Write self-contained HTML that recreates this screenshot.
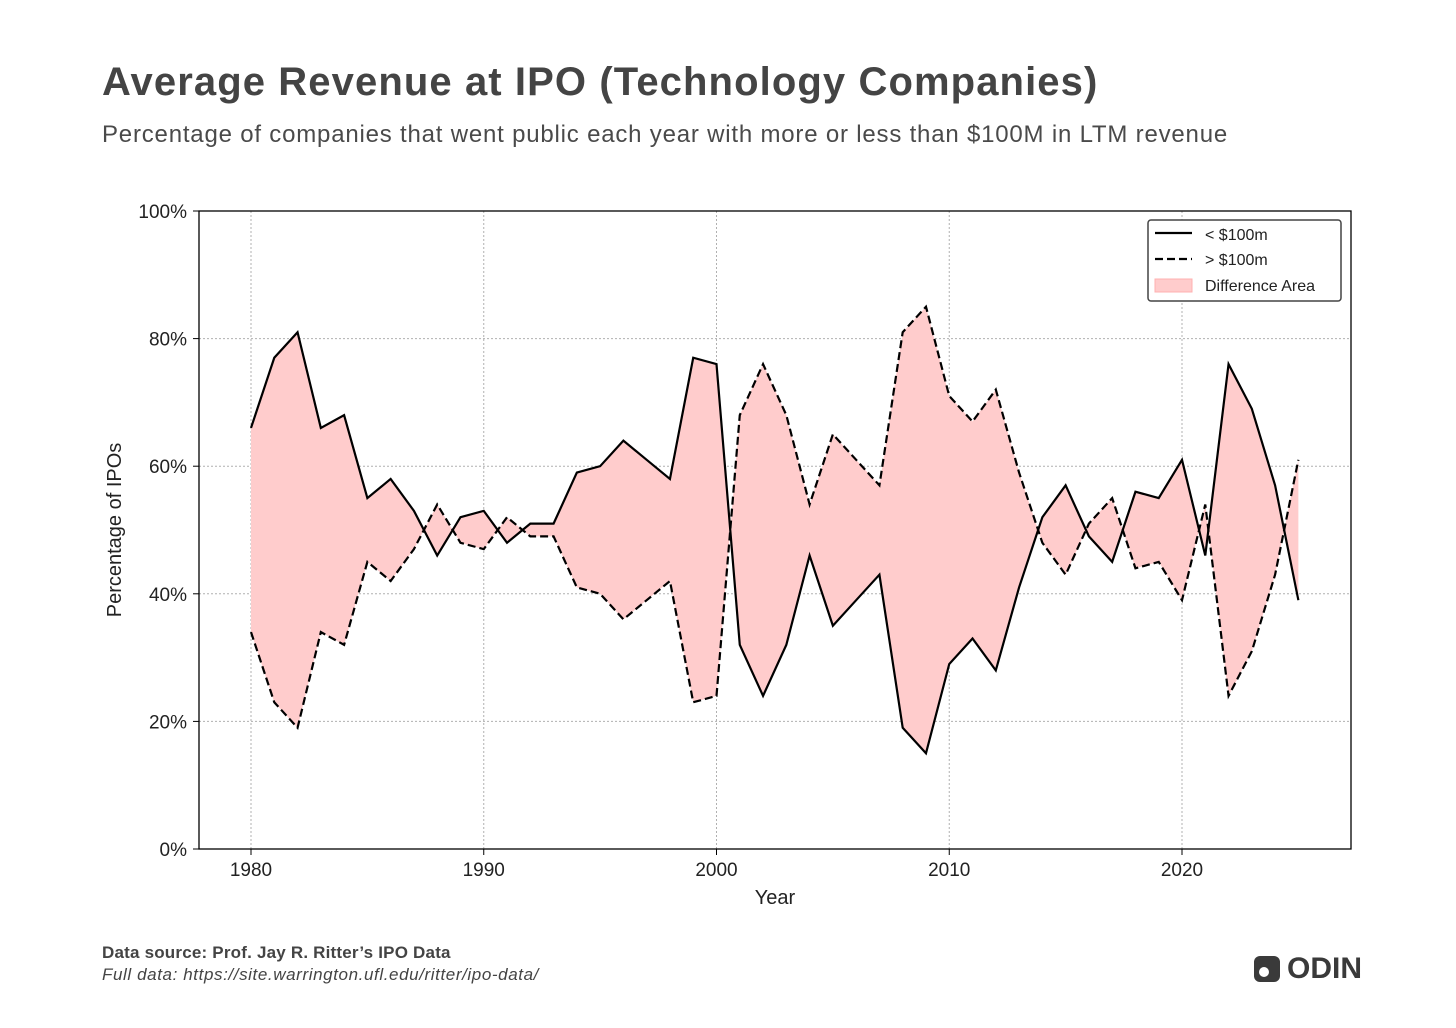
<!DOCTYPE html>
<html><head><meta charset="utf-8">
<style>
body{margin:0;background:#fff;width:1456px;height:1028px;overflow:hidden;font-family:"Liberation Sans",sans-serif;}
#wrap{position:relative;width:1456px;height:1028px;}
.t{position:absolute;white-space:nowrap;}
</style></head>
<body><div id="wrap">
<div class="t" style="left:102px;top:60px;font-size:40px;font-weight:bold;color:#444;letter-spacing:1.1px">Average Revenue at IPO (Technology Companies)</div>
<div class="t" style="left:102px;top:121px;font-size:24px;color:#4a4a4a;letter-spacing:0.8px">Percentage of companies that went public each year with more or less than $100M in LTM revenue</div>
<svg id="chart" width="1456" height="1028" style="position:absolute;left:0;top:0"></svg>
<div class="t" style="left:102px;top:943px;font-size:17px;font-weight:bold;color:#444;letter-spacing:0.2px">Data source: Prof. Jay R. Ritter’s IPO Data</div>
<div class="t" style="left:102px;top:965px;font-size:17px;font-style:italic;color:#444;letter-spacing:0.6px">Full data: https://site.warrington.ufl.edu/ritter/ipo-data/</div>
<div style="position:absolute;left:1254px;top:956px;width:26px;height:26px;background:#3a3a3a;border-radius:6px"><div style="position:absolute;left:5px;top:11px;width:10px;height:10px;border-radius:50%;background:#fff"></div></div>
<div class="t" style="left:1287px;top:952px;font-size:30px;font-weight:bold;color:#3a3a3a">ODIN</div>
</div>
<script>
const years=[1980,1981,1982,1983,1984,1985,1986,1987,1988,1989,1990,1991,1992,1993,1994,1995,1996,1997,1998,1999,2000,2001,2002,2003,2004,2005,2006,2007,2008,2009,2010,2011,2012,2013,2014,2015,2016,2017,2018,2019,2020,2021,2022,2023,2024,2025];
const under100=[66,77,81,66,68,55,58,53,46,52,53,48,51,51,59,60,64,61,58,77,76,32,24,32,46,35,39,43,19,15,29,33,28,41,52,57,49,45,56,55,61,46,76,69,57,39];
const over100=[34,23,19,34,32,45,42,47,54,48,47,52,49,49,41,40,36,39,42,23,24,68,76,68,54,65,61,57,81,85,71,67,72,59,48,43,51,55,44,45,39,54,24,31,43,61];
const xTicks=[1980,1990,2000,2010,2020];
const yTicks=[0,20,40,60,80,100];
const L=199,R=1351,T=211,B=849;
const x=v=>251+(v-1980)*(1182-251)/40;
const y=v=>B-(v/100)*(B-T);
const svg=document.getElementById('chart');const NS='http://www.w3.org/2000/svg';
function mk(tag,at,parent){const e=document.createElementNS(NS,tag);for(const k in at)e.setAttribute(k,at[k]);(parent||svg).appendChild(e);return e;}
xTicks.forEach(t=>{const g=mk('line',{x1:x(t),x2:x(t),y1:T,y2:B,stroke:'#b0b0b0','stroke-width':1,'stroke-dasharray':'2,2'});


const tk=mk('line',{x1:x(t),x2:x(t),y1:B,y2:B+6,stroke:'#000'});


const lb=mk('text',{x:x(t),y:B+27,'text-anchor':'middle','font-size':19,fill:'#222','font-family':'Liberation Sans'});lb.textContent=t;

});
yTicks.forEach(t=>{const g=mk('line',{x1:L,x2:R,y1:y(t),y2:y(t),stroke:'#b0b0b0','stroke-width':1,'stroke-dasharray':'2,2'});


const tk=mk('line',{x1:L-6,x2:L,y1:y(t),y2:y(t),stroke:'#000'});


const lb=mk('text',{x:L-12,y:y(t)+7,'text-anchor':'end','font-size':19,fill:'#222','font-family':'Liberation Sans'});lb.textContent=t+'%';

});
let d='M'+years.map((yr,i)=>x(yr)+','+y(under100[i])).join('L');
for(let i=years.length-1;i>=0;i--)d+='L'+x(years[i])+','+y(over100[i]);d+='Z';
const area=mk('path',{d:d,fill:'#ffcccc',stroke:'none'});


const l1=mk('polyline',{points:years.map((yr,i)=>x(yr)+','+y(under100[i])).join(' '),fill:'none',stroke:'#000','stroke-width':2.2,'stroke-linejoin':'miter'});


const l2=mk('polyline',{points:years.map((yr,i)=>x(yr)+','+y(over100[i])).join(' '),fill:'none',stroke:'#000','stroke-width':2.2,'stroke-dasharray':'8,4'});


const fr=mk('rect',{x:L,y:T,width:R-L,height:B-T,fill:'none',stroke:'#000','stroke-width':1.3});


const xt=mk('text',{x:(L+R)/2,y:904,'text-anchor':'middle','font-size':20,fill:'#222','font-family':'Liberation Sans'});xt.textContent='Year';


const yt=mk('text',{x:0,y:0,transform:'translate(121,530) rotate(-90)','text-anchor':'middle','font-size':20,fill:'#222','font-family':'Liberation Sans'});yt.textContent='Percentage of IPOs';


const lg=mk('g',{});


mk('rect',{x:1148,y:220,width:193,height:81,rx:3,fill:'#fff',stroke:'#444','stroke-width':1.5},lg);
mk('line',{x1:1155,x2:1192,y1:233,y2:233,stroke:'#000','stroke-width':2.2},lg);
mk('line',{x1:1155,x2:1192,y1:259,y2:259,stroke:'#000','stroke-width':2.2,'stroke-dasharray':'8,4'},lg);
mk('rect',{x:1155,y:279,width:37,height:13,fill:'#ffcccc',stroke:'#ffb0b0'},lg);
[['< $100m',240],['> $100m',265],['Difference Area',291]].forEach(([s,yy])=>{const t=mk('text',{x:1205,y:yy,'font-size':16,fill:'#222','font-family':'Liberation Sans'},lg);t.textContent=s;

});
</script>
</body></html>
